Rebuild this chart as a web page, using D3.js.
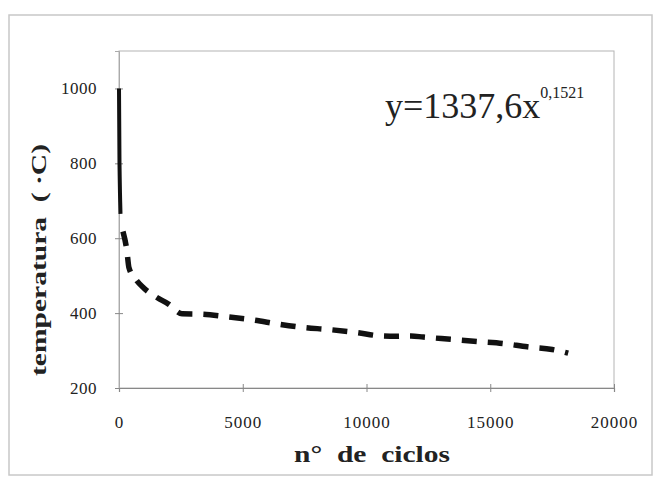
<!DOCTYPE html>
<html>
<head>
<meta charset="utf-8">
<script src="https://cdn.jsdelivr.net/npm/d3@7"></script>
<style>
  body { margin: 0; background: #fff; }
</style>
</head>
<body>
<svg id="chart" width="659" height="478"></svg>
<script>
// solid start of the curve (very few cycles)
const inicioCiclos = [0, 20, 40, 60];
const inicioTemp = [1000, 800, 720, 665];

// dashed part of the curve
const ciclos = [160, 320, 400, 700, 1000, 1550, 2000, 2550, 3300, 4400, 5400, 6500,
  7400, 8500, 9600, 10600, 11200, 11800, 12300, 13400, 14500, 15500, 16500, 17500, 18150];
const temperatura = [618, 566, 522, 488, 467, 441, 424, 398, 397, 390, 382, 370,
  362, 356, 348, 339, 338, 339, 336, 330, 324, 319, 310, 303, 293];

const xTicks = [0, 5000, 10000, 15000, 20000];
const yTicks = [200, 400, 600, 800, 1000];
const ecuacion = "y=1337,6x";
const exponente = "0,1521";

const serif = '"Liberation Serif", "Times New Roman", Times, serif';

const svg = d3.select("#chart").attr("font-family", serif);
const margin = { left: 119, right: 45, top: 51, bottom: 90 };
const width = 659, height = 478;

// scanned page border
svg.append("rect")
  .attr("x", 9).attr("y", 15)
  .attr("width", 643).attr("height", 460)
  .attr("fill", "none")
  .attr("stroke", "#c8c8c8")
  .attr("stroke-width", 1.5);

const x = d3.scaleLinear().domain([0, 20000]).range([margin.left, width - margin.right]);
const y = d3.scaleLinear().domain([200, 1100]).range([height - margin.bottom, margin.top]);

// plot frame
svg.append("rect")
  .attr("x", x(0)).attr("y", y(1100))
  .attr("width", x(20000) - x(0)).attr("height", y(200) - y(1100))
  .attr("fill", "none")
  .attr("stroke", "#b4b4b4")
  .attr("stroke-width", 1);

const xAxis = svg.append("g")
  .attr("transform", `translate(0,${y(200)})`)
  .call(d3.axisBottom(x).tickValues(xTicks).tickFormat(d3.format("d")).tickSize(4).tickPadding(24));
xAxis.attr("font-family", serif);
xAxis.select(".domain").attr("stroke", "#888").attr("stroke-width", 1.2);
xAxis.selectAll(".tick line").attr("stroke", "#888").attr("y1", -4);
xAxis.selectAll(".tick text")
  .attr("font-size", 17)
  .attr("letter-spacing", "1")
  .attr("fill", "#222");

const yAxis = svg.append("g")
  .attr("transform", `translate(${x(0)},0)`)
  .call(d3.axisLeft(y).tickValues(yTicks).tickFormat(d3.format("d")).tickSize(4).tickPadding(18));
yAxis.attr("font-family", serif);
yAxis.select(".domain").attr("stroke", "#aaa").attr("stroke-width", 1);
yAxis.selectAll(".tick line").attr("stroke", "#888").attr("x2", 4).attr("x1", -4);
yAxis.selectAll(".tick text")
  .attr("font-size", 17)
  .attr("letter-spacing", "0.5")
  .attr("fill", "#222");

const line = d3.line()
  .x((d) => x(d[0]))
  .y((d) => y(d[1]))
  .curve(d3.curveMonotoneX);

svg.append("path")
  .datum(inicioCiclos.map((c, i) => [c, inicioTemp[i]]))
  .attr("d", d3.line().x((d) => x(d[0])).y((d) => y(d[1])).curve(d3.curveMonotoneY))
  .attr("fill", "none")
  .attr("stroke", "#111")
  .attr("stroke-width", 4);

svg.append("path")
  .datum(ciclos.map((c, i) => [c, temperatura[i]]))
  .attr("d", line)
  .attr("fill", "none")
  .attr("stroke", "#111")
  .attr("stroke-width", 5.5)
  .attr("stroke-dasharray", "15 11");

// equation
const eq = svg.append("text")
  .attr("x", 385)
  .attr("y", 118)
  .attr("font-size", 36)
  .attr("fill", "#222");
eq.append("tspan").text(ecuacion);
eq.append("tspan")
  .attr("dy", -20)
  .attr("font-size", 16)
  .text(exponente);

// axis titles (scan is slightly stretched, so fit the measured lengths)
svg.append("text")
  .attr("x", 372)
  .attr("y", 462)
  .attr("text-anchor", "middle")
  .attr("font-size", 24)
  .attr("font-weight", "bold")
  .attr("fill", "#222")
  .attr("textLength", 156)
  .attr("lengthAdjust", "spacingAndGlyphs")
  .attr("xml:space", "preserve")
  .text("n°  de  ciclos");

svg.append("text")
  .attr("transform", `translate(46,260) rotate(-90)`)
  .attr("text-anchor", "middle")
  .attr("font-size", 21)
  .attr("font-weight", "bold")
  .attr("fill", "#222")
  .attr("textLength", 232)
  .attr("lengthAdjust", "spacingAndGlyphs")
  .attr("xml:space", "preserve")
  .text("temperatura  ( ·C)");
</script>
</body>
</html>
